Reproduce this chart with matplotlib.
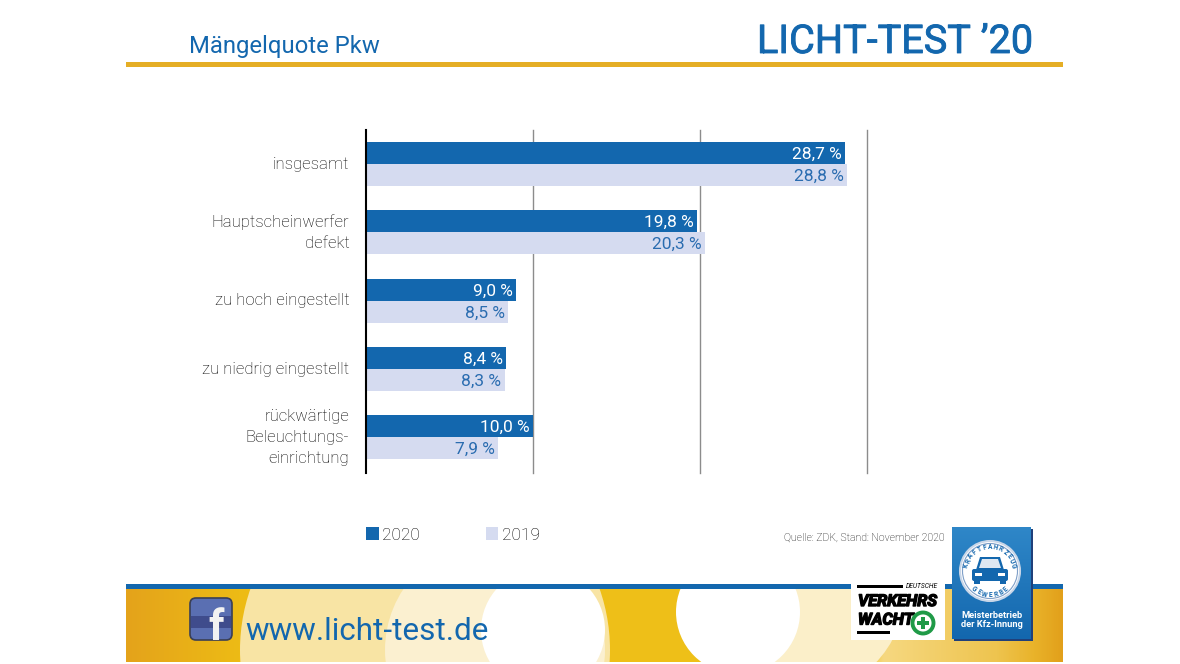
import numpy as np
import matplotlib
matplotlib.use('Agg')
import matplotlib.pyplot as plt
import matplotlib.patheffects as pe
from matplotlib.colors import LinearSegmentedColormap
from matplotlib.patches import Circle, Rectangle, FancyBboxPatch, Polygon
from matplotlib.transforms import ScaledTranslation

plt.rcParams['font.family'] = ['Roboto', 'DejaVu Sans']

categories = ['insgesamt', 'Hauptscheinwerfer\ndefekt', 'zu hoch eingestellt',
              'zu niedrig eingestellt', 'rückwärtige\nBeleuchtungs-\neinrichtung']
values_2020 = [28.7, 19.8, 9.0, 8.4, 10.0]
values_2019 = [28.8, 20.3, 8.5, 8.3, 7.9]
x_ticks = [10, 20, 30]

BLUE = '#1367ae'
PALE = '#d5dbf0'
GOLD = '#e5ae25'
TEXT = '#000000'

fig = plt.figure(figsize=(11.8, 6.64), dpi=100)

# %% background, pixel coordinates
bg = fig.add_axes([0, 0, 1, 1], zorder=0)
bg.set_xlim(0, 1180)
bg.set_ylim(664, 0)
bg.axis('off')

bg.add_patch(Rectangle((126, 62), 937, 5, color=GOLD, lw=0))
bg.text(189, 53, 'Mängelquote Pkw', color=BLUE, fontsize=17.2, va='baseline')
bg.text(757, 53, "LICHT-TEST ’20", color=BLUE, fontsize=28.5, va='baseline',
        path_effects=[pe.withStroke(linewidth=0.6, foreground=BLUE)])

# footer band
stops = [(0, '#e4a31b'), (0.12, '#edbb15'), (0.78, '#efc21a'), (0.81, '#f6d880'),
         (0.93, '#eec44f'), (0.97, '#e9b32a'), (1, '#e2a01b')]
cmap = LinearSegmentedColormap.from_list('band', stops, N=1024)
bg.imshow(np.linspace(0, 1, 937)[None, :], cmap=cmap, extent=(126, 1063, 662, 589),
          aspect='auto', zorder=1, interpolation='bilinear')
band = Rectangle((126, 589), 937, 73, transform=bg.transData)
for xy, r, c in [((425, 650), 185, '#f8e4a4'), ((495, 650), 110, '#fbf0d0'),
                 ((543, 630), 62, '#ffffff'), ((800, 590), 105, '#fbefc9'),
                 ((738, 612), 62, '#ffffff')]:
    p = Circle(xy, r, color=c, lw=0, zorder=2)
    bg.add_patch(p)
    p.set_clip_path(band)
bg.set_xlim(0, 1180)
bg.set_ylim(664, 0)
bg.add_patch(Rectangle((126, 584), 937, 5, color=BLUE, lw=0, zorder=3))

# facebook icon
bg.add_patch(FancyBboxPatch((190, 598), 42, 42, boxstyle='round,pad=0,rounding_size=6',
                            fc='#5a6fb2', ec='#3a3f55', lw=1.2, zorder=3))
bg.add_patch(Rectangle((191, 616), 40, 12, color='#3f4c8c', lw=0, zorder=3))
bg.text(216, 639.5, 'f', color='#f2f2f2', fontsize=31, fontweight='bold', ha='center',
        va='baseline', zorder=4)
bg.text(245, 640, 'www.licht-test.de', color=BLUE, fontsize=22.6, va='baseline', zorder=4)

# verkehrswacht logo
bg.add_patch(Rectangle((851, 584), 94, 56, color='white', lw=0, zorder=4))
bg.add_patch(Rectangle((857, 585), 46, 3, color='black', lw=0, zorder=5))
bg.add_patch(Rectangle((857, 630.5), 33, 3, color='black', lw=0, zorder=5))
bg.text(938, 586.5, 'DEUTSCHE', fontsize=4.8, style='italic', ha='right', va='center', zorder=5)
heavy = [pe.withStroke(linewidth=1.0, foreground='black')]
bg.text(858, 606, 'VERKEHRS', fontsize=11.7, fontweight='bold', style='italic',
        va='baseline', zorder=5, path_effects=heavy)
bg.text(858, 624.5, 'WACHT', fontsize=11.7, fontweight='bold', style='italic',
        va='baseline', zorder=5, path_effects=heavy)
bg.add_patch(Circle((923, 623), 10.5, fc='white', ec='#1f9a47', lw=2.8, zorder=5))
bg.add_patch(Rectangle((917, 621), 12, 4, color='#1f9a47', lw=0, zorder=6))
bg.add_patch(Rectangle((921, 617), 4, 12, color='#1f9a47', lw=0, zorder=6))

# innung badge
bg.add_patch(Rectangle((953.5, 529), 79, 112, color='#20407a', lw=0, zorder=4))
blue_map = LinearSegmentedColormap.from_list('badge', ['#2f87c8', '#1367ae'])
bg.imshow(np.linspace(0, 1, 128)[:, None], cmap=blue_map, extent=(952, 1031, 639, 527),
          aspect='auto', zorder=5)
bg.set_xlim(0, 1180)
bg.set_ylim(664, 0)
cx, cy = 990, 571
bg.add_patch(Circle((cx, cy), 30, fc='white', ec='#c8d6e8', lw=1.5, zorder=6))
bg.add_patch(Circle((cx, cy), 27.5, fc='white', ec='#7f9fc8', lw=0.8, zorder=7))
bg.add_patch(Polygon([(cx - 14, cy - 1), (cx - 10, cy - 14), (cx + 10, cy - 14), (cx + 14, cy - 1)],
                     color=BLUE, lw=0, zorder=8))
bg.add_patch(FancyBboxPatch((cx - 18, cy - 2), 36, 12, boxstyle='round,pad=0,rounding_size=2',
                            fc=BLUE, ec='none', zorder=8))
bg.add_patch(Rectangle((cx - 16, cy + 9), 6, 4, color=BLUE, lw=0, zorder=8))
bg.add_patch(Rectangle((cx + 10, cy + 9), 6, 4, color=BLUE, lw=0, zorder=8))
bg.add_patch(Polygon([(cx - 11, cy - 3), (cx - 8, cy - 12), (cx + 8, cy - 12), (cx + 11, cy - 3)],
                     color='#dfe8f2', lw=0, zorder=9))
bg.add_patch(Rectangle((cx - 15, cy + 2), 7, 2.5, color='white', lw=0, zorder=9))
bg.add_patch(Rectangle((cx + 8, cy + 2), 7, 2.5, color='white', lw=0, zorder=9))

top_word = 'KRAFTFAHRZEUG'
for ch, a in zip(top_word, np.linspace(-78, 78, len(top_word))):
    t = np.radians(a)
    bg.text(cx + 24 * np.sin(t), cy - 24 * np.cos(t), ch, fontsize=4.8, fontweight='bold',
            color=BLUE, ha='center', va='center', rotation=-a, zorder=9)
low_word = 'GEWERBE'
for ch, a in zip(low_word, np.linspace(-42, 42, len(low_word))):
    t = np.radians(a)
    bg.text(cx + 24 * np.sin(t), cy + 24 * np.cos(t), ch, fontsize=4.8, fontweight='bold',
            color=BLUE, ha='center', va='center', rotation=a, zorder=9)
bg.text(991.5, 620, 'Meisterbetrieb\nder Kfz-Innung', color='white', fontsize=6.7, fontweight='bold',
        ha='center', va='center', linespacing=1.05, zorder=7)

bg.text(945, 540.5, 'Quelle: ZDK, Stand: November 2020', color=TEXT, fontsize=7.6, ha='right',
        va='baseline', fontweight='light')

# %% chart
ax = fig.add_axes([366 / 1180, 1 - 473 / 664, (867 - 366) / 1180, (473 - 130) / 664], zorder=2)
ax.patch.set_alpha(0)
y = np.arange(len(categories))
h = 0.322
b20 = ax.barh(y - h / 2, values_2020, h, color=BLUE, label='2020', zorder=2)
b19 = ax.barh(y + h / 2, values_2019, h, color=PALE, label='2019', zorder=2)
ax.set_xlim(0, 30)
ax.set_ylim(4.52, -0.5)

for yy, v in zip(y - h / 2, values_2020):
    ax.text(v - 0.2, yy + 0.015, f'{v:.1f} %'.replace('.', ','), color='white', fontsize=12.5,
            ha='right', va='center', zorder=3)
for yy, v in zip(y + h / 2, values_2019):
    ax.text(v - 0.2, yy + 0.015, f'{v:.1f} %'.replace('.', ','), color='#2a6cb0', fontsize=12.5,
            ha='right', va='center', zorder=3)

ax.set_xticks(x_ticks)
ax.set_xticklabels([])
ax.set_yticks(y)
ax.set_yticklabels(categories, fontsize=12.1, color=TEXT, linespacing=1.5, fontweight='light',
                   va='center')
# nudge the category labels down a little
shift = ScaledTranslation(0, -1.5 / 100, fig.dpi_scale_trans)
for lab in ax.get_yticklabels():
    lab.set_transform(lab.get_transform() + shift)
ax.tick_params(axis='both', length=0)
ax.tick_params(axis='y', pad=12)
ax.grid(axis='x', color='#8c8c8c', lw=1, zorder=1, clip_on=False)
for s in ['top', 'right', 'bottom']:
    ax.spines[s].set_visible(False)
ax.spines['left'].set_color('black')
ax.spines['left'].set_linewidth(1.5)
ax.spines['left'].set_zorder(4)

leg = ax.legend(handles=[b20, b19], ncol=2, frameon=False, loc='center left',
                bbox_to_anchor=(366 / 1180, 1 - 535 / 664), bbox_transform=fig.transFigure,
                borderaxespad=0, borderpad=0, handlelength=0.72, handleheight=0.72,
                handletextpad=0.2, columnspacing=3.8, prop={'size': 12.5, 'weight': 'light'})
for t in leg.get_texts():
    t.set_color(TEXT)

fig.savefig('out.png', dpi=100)
